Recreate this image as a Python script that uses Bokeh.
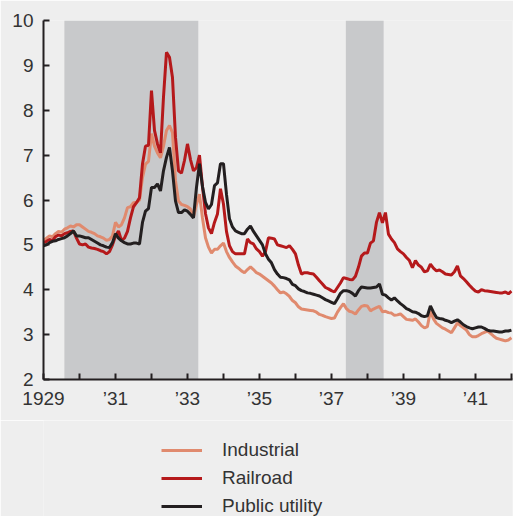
from bokeh.plotting import figure
from bokeh.layouts import column
from bokeh.models import Range1d, FixedTicker, Legend, LegendItem, ColumnDataSource
from bokeh.embed import file_html
from bokeh.resources import INLINE

# Monthly data, Jan 1929 .. Jan 1942
start_year = 1929
industrial = [
    5.10, 5.15, 5.20, 5.18, 5.25, 5.30, 5.28, 5.35, 5.38, 5.42, 5.40, 5.45,
    5.45, 5.40, 5.35, 5.30, 5.28, 5.25, 5.20, 5.18, 5.15, 5.10, 5.12, 5.20,
    5.50, 5.40, 5.45, 5.60, 5.83, 5.85, 5.94, 5.95, 6.00, 6.50, 6.80, 6.86,
    7.48, 7.20, 7.05, 6.94, 7.20, 7.55, 7.66, 7.50, 6.43, 5.98, 5.90, 5.88,
    5.85, 5.80, 5.62, 5.90, 6.13, 5.60, 5.16, 4.95, 4.82, 4.90, 4.90, 4.98,
    5.04, 4.85, 4.72, 4.62, 4.53, 4.48, 4.42, 4.38, 4.45, 4.51, 4.45, 4.38,
    4.35, 4.30, 4.25, 4.20, 4.15, 4.08, 4.00, 3.93, 3.95, 3.91, 3.85, 3.76,
    3.71, 3.62, 3.57, 3.56, 3.55, 3.54, 3.53, 3.50, 3.45, 3.43, 3.40, 3.38,
    3.36, 3.37, 3.50, 3.60, 3.69, 3.58, 3.52, 3.50, 3.46, 3.55, 3.63, 3.65,
    3.64, 3.53, 3.57, 3.60, 3.63, 3.51, 3.52, 3.49, 3.48, 3.43, 3.44, 3.46,
    3.40, 3.34, 3.33, 3.32, 3.35, 3.28, 3.20, 3.15, 3.18, 3.53, 3.35, 3.25,
    3.20, 3.15, 3.12, 3.08, 3.04, 3.15, 3.26, 3.20, 3.15, 3.10, 3.00, 2.95,
    2.95, 2.98, 3.02, 3.05, 3.08, 3.03, 2.97, 2.92, 2.90, 2.88, 2.86, 2.88,
    2.93,
]
railroad = [
    5.05, 5.08, 5.12, 5.10, 5.18, 5.22, 5.20, 5.25, 5.27, 5.30, 5.31, 5.15,
    5.02, 5.00, 5.02, 4.95, 4.93, 4.92, 4.90, 4.87, 4.85, 4.80, 4.85, 5.00,
    5.20, 5.31, 5.10, 5.15, 5.30, 5.60, 5.85, 5.94, 6.05, 6.80, 7.20, 7.22,
    8.44, 7.55, 7.25, 7.05, 8.29, 9.29, 9.18, 8.73, 7.40, 6.65, 6.60, 6.88,
    7.25, 6.90, 6.65, 6.72, 7.00, 6.30, 5.70, 5.38, 5.25, 5.50, 5.69, 6.25,
    5.91, 5.30, 4.98, 4.85, 4.80, 4.80, 4.80, 4.80, 5.13, 5.05, 5.02, 4.91,
    4.85, 4.75, 4.85, 5.16, 5.15, 5.13, 5.00, 4.98, 4.96, 4.94, 4.98, 4.90,
    4.80, 4.55, 4.35, 4.38, 4.38, 4.36, 4.35, 4.28, 4.20, 4.13, 4.05, 4.02,
    3.98, 3.95, 4.05, 4.15, 4.27, 4.25, 4.23, 4.22, 4.30, 4.50, 4.75, 4.82,
    4.82, 5.04, 5.09, 5.50, 5.72, 5.49, 5.72, 5.24, 5.13, 5.05, 4.91, 4.85,
    4.80, 4.72, 4.65, 4.49, 4.65, 4.55, 4.50, 4.40, 4.42, 4.57, 4.48, 4.42,
    4.44, 4.40, 4.35, 4.34, 4.33, 4.40, 4.53, 4.31, 4.25, 4.18, 4.10, 4.03,
    3.97, 3.95, 4.00, 3.98, 3.97, 3.96, 3.95, 3.94, 3.93, 3.93, 3.95, 3.91,
    3.97,
]
public_utility = [
    4.98, 5.00, 5.05, 5.08, 5.09, 5.12, 5.14, 5.16, 5.20, 5.25, 5.31, 5.20,
    5.20, 5.18, 5.16, 5.16, 5.12, 5.08, 5.04, 5.00, 4.98, 4.95, 4.94, 5.05,
    5.25, 5.15, 5.09, 5.05, 5.02, 5.02, 5.04, 5.04, 5.02, 5.50, 5.75, 5.81,
    6.28, 6.28, 6.36, 6.20, 6.65, 6.95, 7.17, 6.65, 5.98, 5.72, 5.72, 5.78,
    5.75, 5.68, 5.60, 6.28, 6.81, 6.30, 5.95, 5.80, 5.90, 6.32, 6.38, 6.81,
    6.81, 6.13, 5.58, 5.40, 5.31, 5.28, 5.25, 5.25, 5.35, 5.42, 5.30, 5.20,
    5.10, 5.00, 4.80, 4.68, 4.60, 4.45, 4.35, 4.28, 4.27, 4.25, 4.22, 4.12,
    4.09, 4.02, 3.98, 3.96, 3.93, 3.92, 3.90, 3.88, 3.86, 3.82, 3.78, 3.75,
    3.72, 3.69, 3.80, 3.92, 3.98, 3.98, 3.96, 3.92, 3.86, 3.98, 4.06, 4.05,
    4.04, 4.04, 4.05, 4.06, 4.13, 3.90, 3.88, 3.82, 3.77, 3.82, 3.75, 3.69,
    3.64, 3.58, 3.55, 3.51, 3.50, 3.47, 3.42, 3.40, 3.42, 3.64, 3.50, 3.38,
    3.36, 3.35, 3.32, 3.30, 3.27, 3.30, 3.33, 3.28, 3.22, 3.18, 3.15, 3.13,
    3.15, 3.17, 3.17, 3.14, 3.10, 3.08, 3.08, 3.07, 3.06, 3.06, 3.08, 3.08,
    3.10,
]
recession_start = [1929.58, 1937.40]
recession_end = [1933.30, 1938.45]
tick_years = list(range(1929, 1943))
tick_labels = ["1929", "", "\u201931", "", "\u201933", "", "\u201935", "",
               "\u201937", "", "\u201939", "", "\u201941", ""]
series_names = ["Industrial", "Railroad", "Public utility"]
series_colors = ["#e08a6e", "#b5191b", "#231f20"]

x = [start_year + i / 12.0 for i in range(len(industrial))]
sources = [ColumnDataSource(dict(x=x, y=ys)) for ys in (industrial, railroad, public_utility)]

FONT = "Liberation Sans"
BG = "#eeeeee"
AX = "#231f20"
TXT = "#333333"

# ---- chart ----
p = figure(width=513, height=420, output_backend="svg", toolbar_location=None,
           x_range=Range1d(1929, 1942.03), y_range=Range1d(2, 10),
           min_border_left=43, min_border_top=20, min_border_right=1,
           min_border_bottom=41)
p.background_fill_color = BG
p.border_fill_color = BG
p.outline_line_color = None
p.grid.visible = False

p.quad(left=recession_start, right=recession_end, bottom=2, top=10,
       fill_color="#c8c9cb", line_color=None)

for src, col in zip(sources, series_colors):
    p.line("x", "y", source=src, line_color=col, line_width=3)

for ax in (p.xaxis[0], p.yaxis[0]):
    ax.axis_line_color = AX
    ax.axis_line_width = 2
    ax.major_tick_line_color = AX
    ax.major_tick_line_width = 2
    ax.major_tick_in = 6
    ax.major_tick_out = 0
    ax.minor_tick_line_color = None
    ax.major_label_text_font = FONT
    ax.major_label_text_font_size = "19px"
    ax.major_label_text_color = TXT

p.yaxis.ticker = FixedTicker(ticks=list(range(2, 11)))
p.yaxis.major_label_standoff = 10
p.xaxis.ticker = FixedTicker(ticks=tick_years)
p.xaxis.major_label_overrides = {yr: lab for yr, lab in zip(tick_years, tick_labels)}
p.xaxis.major_label_standoff = 8

# ---- legend panel (same series, ranges chosen so the lines stay off-frame) ----
q = figure(width=513, height=96, output_backend="svg", toolbar_location=None,
           x_range=Range1d(0, 1), y_range=Range1d(0, 1),
           min_border_left=0, min_border_top=0, min_border_right=0,
           min_border_bottom=0)
q.axis.visible = False
q.grid.visible = False
q.background_fill_color = BG
q.border_fill_color = BG
q.outline_line_color = None

legend_renderers = []
for src, col in zip(sources, series_colors):
    r = q.line("x", "y", source=src, line_color=col, line_width=3)
    legend_renderers.append(r)

legend = Legend(items=[LegendItem(label=n, renderers=[r]) for n, r in zip(series_names, legend_renderers)],
                location=(118, -1), orientation="vertical")
legend.background_fill_alpha = 0
legend.border_line_color = None
legend.padding = 0
legend.margin = 0
legend.spacing = 6
legend.glyph_width = 41
legend.glyph_height = 20
legend.label_height = 20
legend.label_standoff = 20
legend.label_text_font = FONT
legend.label_text_font_size = "19px"
legend.label_text_color = TXT
q.add_layout(legend, "center")

layout = column(p, q, spacing=0)
open("out.html", "w").write(file_html(layout, INLINE))
